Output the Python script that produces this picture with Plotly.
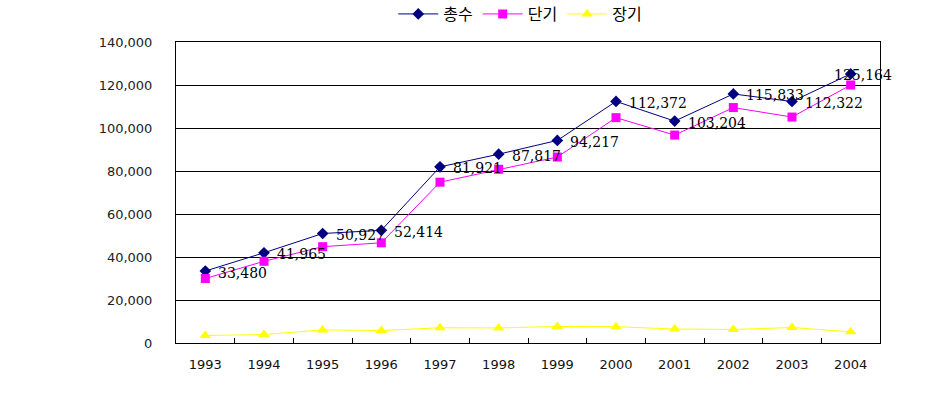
import plotly.graph_objects as go

years = ["1993", "1994", "1995", "1996", "1997", "1998", "1999", "2000", "2001", "2002", "2003", "2004"]
total = [33480, 41965, 50927, 52414, 81921, 87817, 94217, 112372, 103204, 115833, 112322, 125164]
short_term = [30000, 38000, 44800, 46600, 74800, 80800, 86500, 104800, 96700, 109500, 105100, 120000]
long_term = [3480, 3950, 6100, 5800, 7100, 7000, 7700, 7600, 6500, 6300, 7200, 5200]
series_names = ["총수", "단기", "장기"]

fig = go.Figure()
fig.add_trace(go.Scatter(x=years, y=total, name=series_names[0], mode="lines+markers",
                         line=dict(color="#000080", width=1),
                         marker=dict(symbol="diamond", size=9, color="#000080")))
fig.add_trace(go.Scatter(x=years, y=short_term, name=series_names[1], mode="lines+markers",
                         line=dict(color="#FF00FF", width=1),
                         marker=dict(symbol="square", size=9, color="#FF00FF")))
fig.add_trace(go.Scatter(x=years, y=long_term, name=series_names[2], mode="lines+markers",
                         line=dict(color="#FFFF00", width=1),
                         marker=dict(symbol="triangle-up", size=10, color="#FFFF00")))

# data labels for total series (category index positions on the category axis)
special_shift = {"2004": -19}
for i, (yr, v) in enumerate(zip(years, total)):
    fig.add_annotation(x=i, y=v, text=f"{v:,}", showarrow=False,
                       xanchor="left", yanchor="middle",
                       xshift=special_shift.get(yr, 11), yshift=-1.5,
                       font=dict(family="DejaVu Serif", size=14, color="#000000"))

fig.update_layout(
    width=929, height=405,
    margin=dict(l=175.5, r=49, t=42, b=61.5, autoexpand=False),
    paper_bgcolor="white", plot_bgcolor="white",
    showlegend=True,
    legend=dict(orientation="h", x=0.489, xanchor="center", y=1.093, yanchor="middle",
                font=dict(family="Noto Sans CJK KR", size=16, color="#000000"),
                itemwidth=40, tracegroupgap=0, bgcolor="rgba(0,0,0,0)"),
    font=dict(family="DejaVu Sans", color="#000000"),
)
fig.update_xaxes(type="category", range=[-0.5, len(years) - 0.5], showline=True, linecolor="black",
                 linewidth=1, mirror=True,
                 showgrid=False, ticks="inside", ticklen=5, tickcolor="black", tickson="boundaries",
                 tickfont=dict(family="DejaVu Sans", size=13, color="#111111"), ticklabelstandoff=9)
fig.update_yaxes(range=[0, 140000], dtick=20000, tickformat=",", showline=True, linecolor="black",
                 linewidth=1, mirror=True, showgrid=True, gridcolor="black", gridwidth=1,
                 zeroline=False, ticks="", tickfont=dict(family="DejaVu Sans", size=13, color="#222222"),
                 ticklabelstandoff=20)

fig.write_html("out.html")
